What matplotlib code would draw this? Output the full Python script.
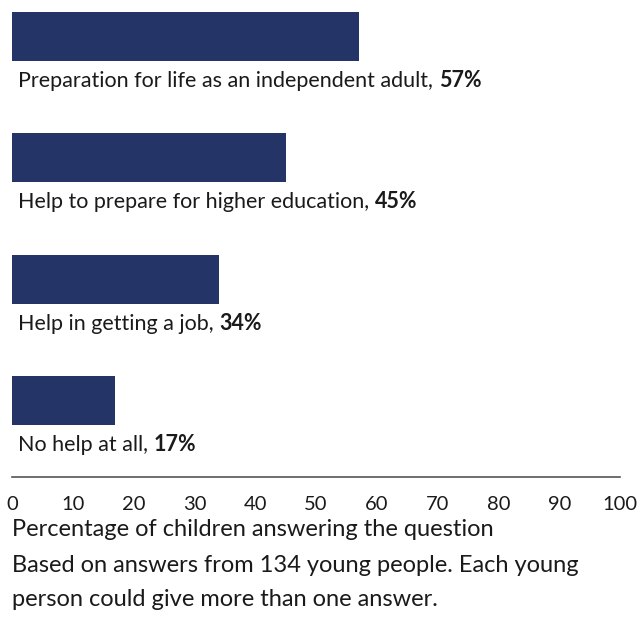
import matplotlib.pyplot as plt

plt.rcParams['font.family'] = ['Lato', 'DejaVu Sans']

categories = ["Preparation for life as an independent adult",
              "Help to prepare for higher education",
              "Help in getting a job",
              "No help at all"]
values = [57, 45, 34, 17]
ticks = [0, 10, 20, 30, 40, 50, 60, 70, 80, 90, 100]
xlabel = "Percentage of children answering the question"
note_lines = ["Based on answers from 134 young people. Each young",
              "person could give more than one answer."]

bar_color = "#243466"
text_color = "#1a1a1a"
W, H = 641, 618
step = 121.3   # px between bar centres
axis_y = 477   # px, position of the x axis line

fig = plt.figure(figsize=(W / 100, H / 100), dpi=100)
ax = fig.add_axes([12 / W, 1 - axis_y / H, 608 / W, axis_y / H])

pos = list(range(len(categories)))
ax.barh(pos, values, height=49 / step, color=bar_color)
ax.set_xlim(0, 100)
ax.set_ylim(3 + (axis_y - 36.5 - 3 * step) / step, -36.5 / step)

for i, (cat, v) in enumerate(zip(categories, values)):
    t = ax.annotate(cat + ", ", xy=(0, i + 50.5 / step), xytext=(4.5, 0), textcoords="offset points",
                    va="baseline", ha="left", fontsize=15.5, color=text_color)
    ax.annotate(f"{v}%", xy=(1, 0), xycoords=t, va="bottom", ha="left",
                fontsize=15.5, fontweight="bold", color=text_color)

for s in ["top", "right", "left"]:
    ax.spines[s].set_visible(False)
ax.spines["bottom"].set_color("#555555")
ax.spines["bottom"].set_linewidth(1.2)
ax.set_yticks([])
ax.set_xticks(ticks)
ax.tick_params(axis="x", length=0, pad=14, labelsize=14.5, labelcolor=text_color)

fig.text(12 / W, 1 - 530 / H, xlabel, fontsize=17, color=text_color, va="center", ha="left")
for k, line in enumerate(note_lines):
    fig.text(12 / W, 1 - (565 + 34 * k) / H, line, fontsize=17, color=text_color, va="center", ha="left")

fig.savefig("out.png", dpi=100)
